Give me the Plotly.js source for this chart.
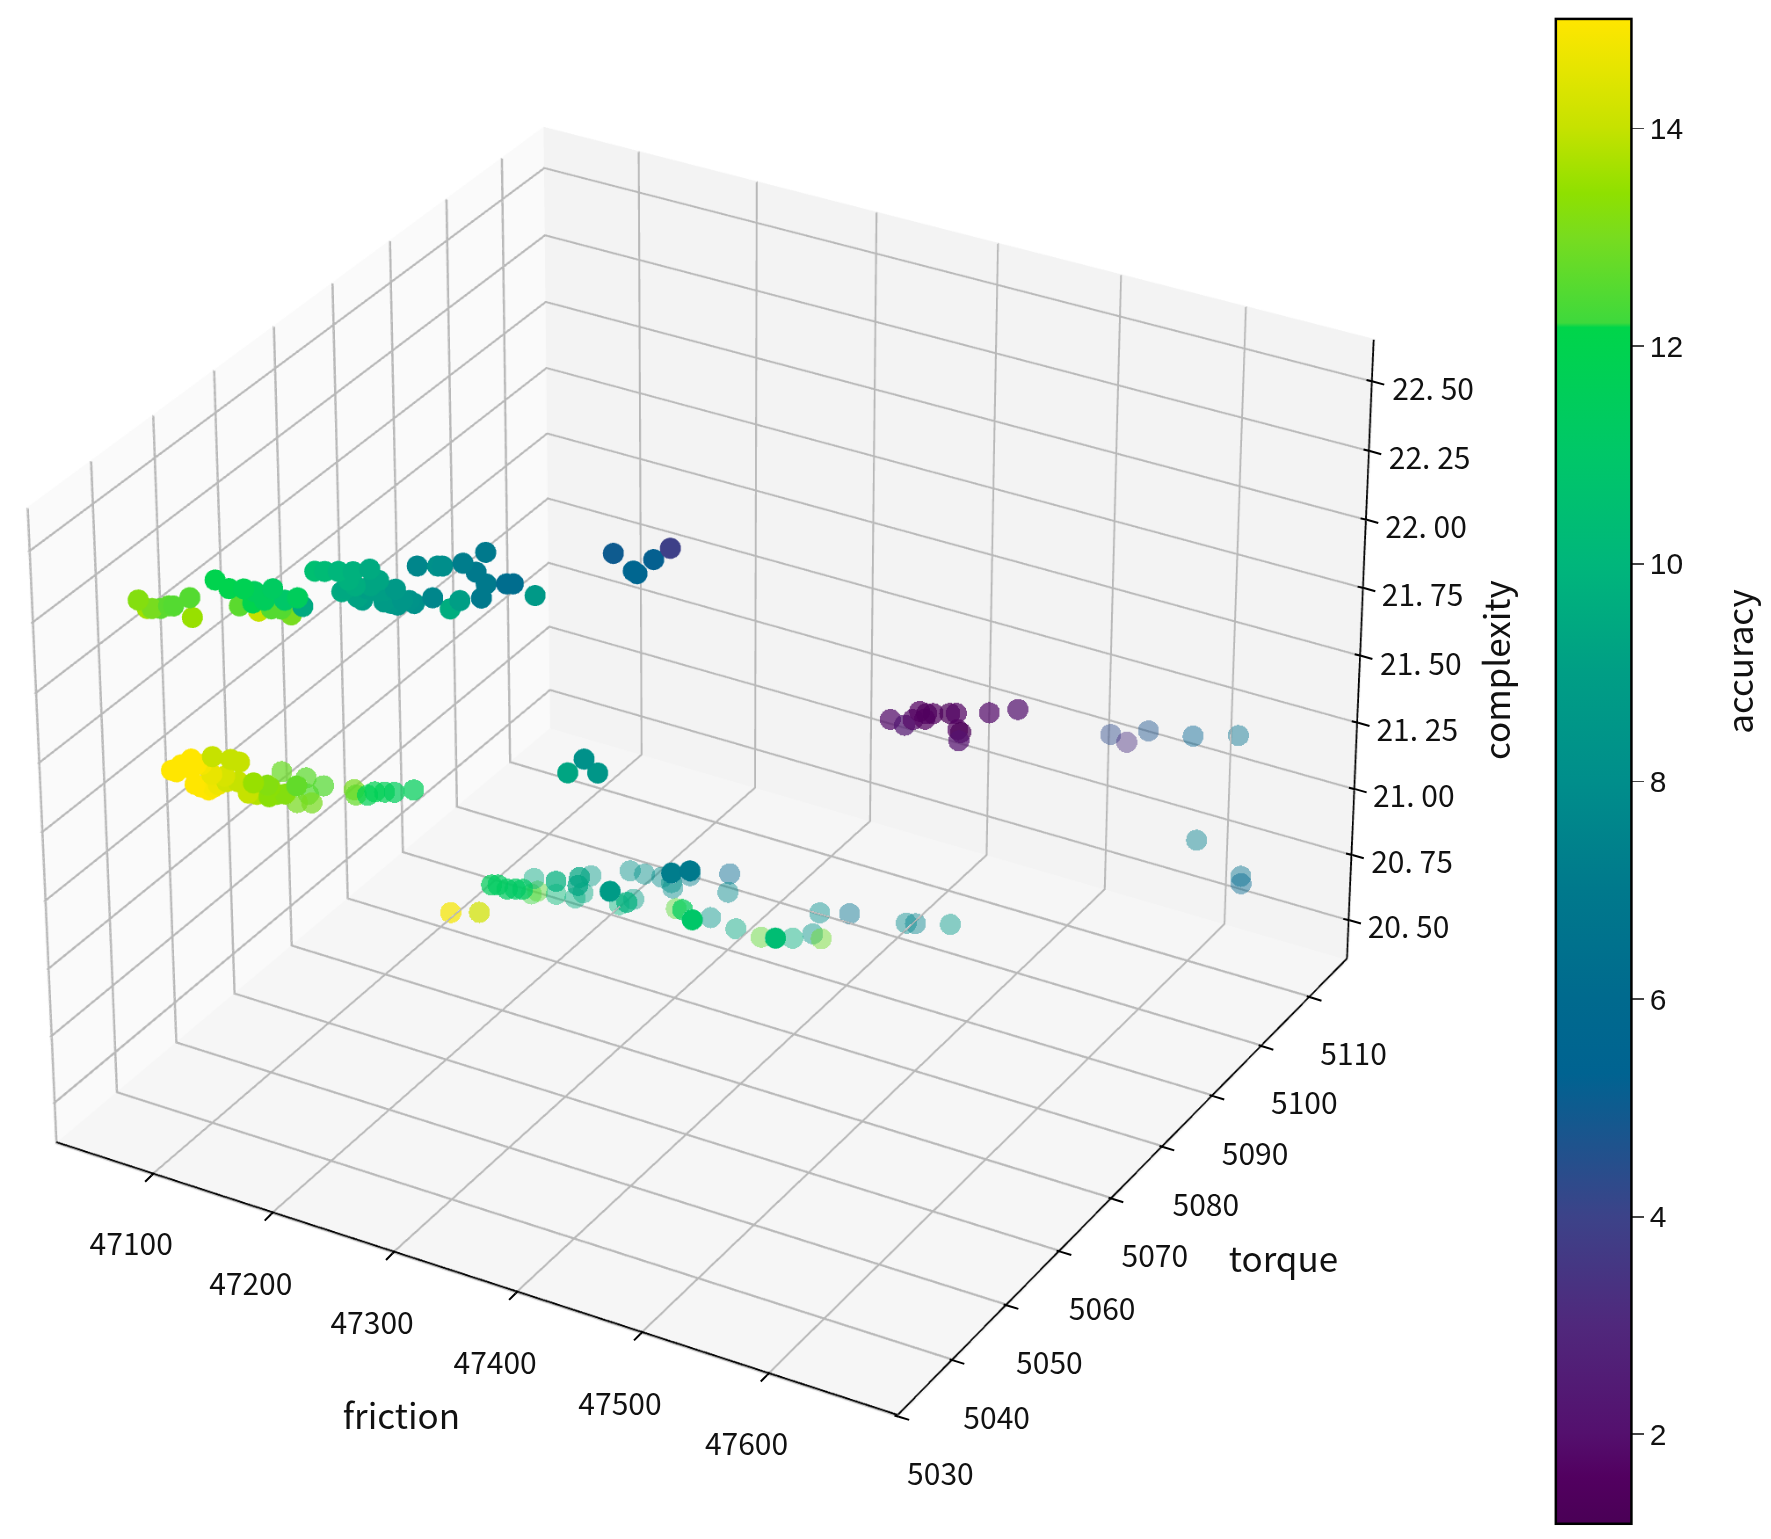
<!DOCTYPE html>
<html><head><meta charset="utf-8">
<script src="https://cdn.plot.ly/plotly-3.0.1.min.js"></script>
<style>html,body{margin:0;padding:0;background:#fff;overflow:hidden;width:1771px;height:1539px}#w{position:absolute;left:0;top:0;width:1771px;height:1539px;overflow:hidden}#c{position:absolute;left:0;transform-origin:0 0}</style></head>
<body><div id="w"><div id="c"></div></div>
<script>
const nearFriction=[47084,47089,47092,47097,47102,47105,47115,47116,47131,47139,47148,47145,47154,47156,47165,47164,47160,47172,47176,47180,47183,47170,47153,47191,47197,47205,47214,47224,47211,47229,47209,47216,47222,47228,47239,47236,47247,47243,47219,47207,47253,47265,47268,47280,47288,47294,47294,47306,47310,47291,47262,47278,47272,47323,47100,47106,47112,47118,47125,47114,47122,47128,47136,47141,47133,47140,47146,47150,47158,47159,47169,47176,47371,47383,47385,47395,47405,47342,47352,47360,47267,47279,47228,47333,47280,47103,47109,47115,47117,47125,47132,47124,47151,47159,47163,47215,47224,47233,47232,47240,47250];
const nearTorque=[5034.2,5034.6,5034.8,5035.2,5035.5,5035.7,5036.4,5036.5,5037.4,5038,5038.6,5038.4,5039.1,5039.3,5039.9,5039.8,5039.5,5040.4,5040.6,5040.9,5041.1,5040.2,5039,5041.6,5042,5042.6,5043.2,5043.9,5043,5044.3,5042.9,5043.4,5043.8,5044.3,5045,5044.8,5045.6,5045.3,5043.6,5042.7,5045.8,5046.7,5046.9,5047.8,5048.3,5048.7,5048.7,5049.6,5049.9,5048.5,5046.4,5047.6,5047.2,5050.8,5035.4,5035.8,5036.3,5036.8,5037.2,5036.4,5037,5037.4,5038,5038.4,5037.8,5038.3,5038.7,5038.8,5039.5,5039.5,5040.2,5040.7,5053.9,5054.7,5054.9,5055.6,5056.3,5052,5052.7,5053.3,5086.7,5087.5,5083.8,5091.6,5087.7,5035.6,5036.1,5036.5,5036.7,5037.2,5037.7,5037.2,5039.1,5039.7,5040,5043.3,5044,5044.6,5044.5,5045.1,5045.8];
const nearComplexity=[22.34,22.31,22.31,22.31,22.32,22.32,22.35,22.28,22.415,22.385,22.385,22.325,22.375,22.305,22.385,22.315,22.345,22.345,22.295,22.355,22.325,22.315,22.335,22.45,22.45,22.45,22.45,22.46,22.42,22.42,22.39,22.36,22.39,22.38,22.39,22.34,22.35,22.35,22.35,22.38,22.475,22.475,22.475,22.485,22.455,22.525,22.415,22.415,22.415,22.365,22.365,22.355,22.325,22.375,21.735,21.755,21.775,21.755,21.785,21.685,21.665,21.685,21.775,21.765,21.695,21.695,21.655,21.695,21.685,21.645,21.655,21.685,22.53,22.47,22.46,22.51,22.55,21.75,21.80,21.75,20.66,20.67,20.59,20.41,20.48,21.73,21.745,21.756,21.675,21.675,21.715,21.72,21.65,21.675,21.65,22.40,22.40,22.386,22.345,22.334,22.34];
const nearAccuracy=[13.2,13.6,13,12.6,12.6,12.5,12.5,13.5,12,12,11.8,12.6,11.5,14,11.3,12.5,11.5,11,13,11.5,9.5,12.5,12,10.5,10.3,10,9.8,9.5,9.8,9.3,9.4,9.2,9,9,8.7,8.7,8.3,8.5,9,9.5,7.6,8.1,8,7.2,7,7,7,6.2,6.2,7,7.6,9,9.6,8.7,15,15,15,14.8,14,15,15,14.7,14,14,14.2,14,14,13.5,13.2,13.3,13.2,12.7,5,5.6,5.6,5.2,3.9,9.3,8.2,8.5,7.2,7,8.8,10.4,11,15,15,15,15,14.9,14.3,14.6,13.8,13.3,13.2,9.6,9.3,9,8.8,8.5,8.2];
const midFriction=[47167,47182,47183,47176,47185,47192,47211,47212,47223,47219,47229,47235,47247,47127,47145,47153,47157,47163,47168,47173,47209,47208,47194,47239,47274,47458,47467,47472,47476,47480,47479,47484,47494,47498,47518,47535,47499,47501,47500];
const midTorque=[5040.1,5041.1,5041.2,5040.7,5041.3,5041.9,5043.1,5043.2,5044.1,5043.7,5044.5,5044.9,5045.7,5076.2,5077.6,5078.2,5078.5,5078.9,5079.3,5079.6,5082.3,5082.2,5081.2,5084.5,5087.2,5084.3,5084.9,5085.3,5085.6,5086,5085.9,5086.3,5087.1,5087.4,5089,5090.4,5087.5,5087.6,5087.5];
const midComplexity=[21.735,21.715,21.655,21.625,21.625,21.685,21.675,21.655,21.665,21.655,21.665,21.665,21.675,20.51,20.51,20.615,20.615,20.60,20.60,20.60,20.645,20.615,20.63,20.55,20.52,21.53,21.51,21.53,21.56,21.55,21.53,21.55,21.55,21.55,21.55,21.56,21.49,21.48,21.45];
const midAccuracy=[12.8,12.6,12.5,13,13,12.5,13,12.7,11.8,11.8,11.7,11.5,11.6,14.8,14.2,11.5,11.3,11.3,11.2,11.2,9.3,9.3,9.8,9.8,11.5,1.9,2.3,1.8,1.6,1.4,1.6,1.5,1.3,1.7,1.9,2.1,1.6,1.2,2.1];
const farFriction=[47178,47182,47180,47194,47216,47211,47206,47234,47243,47241,47250,47261,47267,47268,47279,47304,47303,47270,47292,47308,47324,47344,47357,47362,47361,47380,47416,47422,47444,47548,47558,47571,47599,47627,47603,47633,47633];
const farTorque=[5080.1,5080.4,5080.2,5081.2,5082.9,5082.5,5082.1,5084.2,5084.9,5084.7,5085.4,5086.2,5086.7,5086.7,5087.5,5089.4,5089.3,5086.9,5088.5,5089.7,5090.9,5092.4,5093.3,5093.8,5093.7,5095.1,5097.8,5098.2,5099.9,5105.9,5106.7,5107.8,5109.9,5112.1,5110.3,5112.1,5112.2];
const farComplexity=[20.58,20.59,20.64,20.58,20.65,20.585,20.566,20.54,20.56,20.67,20.657,20.645,20.624,20.604,20.652,20.658,20.588,20.524,20.49,20.447,20.414,20.41,20.428,20.407,20.507,20.504,20.467,20.466,20.462,21.215,21.185,21.225,21.205,21.205,20.81,20.68,20.65];
const farAccuracy=[12.2,12.5,9.5,10.3,8.8,9.4,9.7,10,9,8.3,8.1,8,8.4,8,7.2,5.8,7.8,12.5,8.5,9.4,12.6,9.8,8.4,12.8,8,6.5,7.7,7.5,8.7,4.3,3.3,4.7,5.3,6.5,7.3,6.4,5.7];
const frictionTicks=[47100,47200,47300,47400,47500,47600];
const torqueTicks=[5030,5040,5050,5060,5070,5080,5090,5100,5110];
const complexityTicks=[20.5,20.75,21,21.25,21.5,21.75,22,22.25,22.5];
const complexityLabels=['20. 50','20. 75','21. 00','21. 25','21. 50','21. 75','22. 00','22. 25','22. 50'];
const accuracyTicks=[2,4,6,8,10,12,14];
const xRange=[47018,47702],yRange=[5029.8,5117.8],zRange=[20.345,22.65];

const scale=[[0,'#4a0056'],[0.031,'#520060'],[0.06,'#54106e'],[0.132,'#50287c'],[0.205,'#3c4389'],[0.299,'#006391'],[0.349,'#006a8e'],[0.422,'#00798c'],[0.494,'#008e8b'],[0.566,'#009e85'],[0.638,'#00b67b'],[0.711,'#00c768'],[0.795,'#00d54a'],[0.798,'#3ed93c'],[0.855,'#78dc1f'],[0.884,'#8fe000'],[0.928,'#c6e200'],[0.964,'#e3e500'],[1,'#ffe600']];
const cmin=1.17,cmax=15;
const S=1.758,Hp=7130,T=743-Hp/2,FONT='Noto Sans CJK SC';
const px=x=>x/1771, py=y=>1-(y-T)/Hp;
function trace(x,y,z,c,op,bar){return {type:'scatter3d',mode:'markers',x:x,y:y,z:z,hoverinfo:'skip',showlegend:false,
 marker:{size:12.3/S,opacity:op,color:c,cmin:cmin,cmax:cmax,colorscale:scale,line:{width:0},showscale:bar,
 colorbar:bar?{x:px(1557),xanchor:'left',xpad:0,ypad:0,y:py(772),yanchor:'middle',lenmode:'pixels',len:1504/S,thicknessmode:'pixels',thickness:76/S,outlinewidth:2.5/S,outlinecolor:'#000',
  ticks:'outside',ticklen:12/S,tickwidth:2/S,tickvals:accuracyTicks,tickfont:{size:30/S,family:'Liberation Sans',color:'#111'}}:undefined}};}
const axis=(bg,range,vals)=>({title:{text:''},range:range,autorange:false,tickvals:vals,showticklabels:false,showbackground:true,backgroundcolor:bg,showgrid:true,gridcolor:'#bbbbbb',gridwidth:1,zeroline:false,
 showline:false,ticks:'',showspikes:false});
const r=8.9,ue={x:0.433,y:-0.75,z:0.5};
const note=(x,y,z,t,xs,ys)=>({x:x,y:y,z:z,text:t,showarrow:false,xshift:xs/S,yshift:ys/S,xanchor:'center',yanchor:'middle',font:{size:30/S,family:FONT,color:'#111'}});
const mark=(x,y,z,ax,ay)=>({x:x,y:y,z:z,text:' ',showarrow:true,arrowhead:0,arrowwidth:2/S,arrowcolor:'#000',standoff:0,ax:ax/S,ay:ay/S,font:{size:1}});
const [x0,x1]=[xRange[0]+0.3,xRange[1]-0.3],[y0,y1]=[yRange[0]+0.04,yRange[1]-0.04],[z0,z1]=[zRange[0]+0.001,zRange[1]-0.001];
const [gx0,gx1]=[xRange[0]+1,xRange[1]-1],[gy0,gy1]=[yRange[0]+0.13,yRange[1]-0.13],gz0=zRange[0]+0.004,sz0=zRange[0]+0.008;
const sceneNotes=[
 ...frictionTicks.map(v=>note(v,y0,z0,String(v),-20,-67)),
 ...torqueTicks.map(v=>note(x1,v,z0,String(v),42,-55)),
 ...complexityTicks.map((v,i)=>note(x1,y1,v,complexityLabels[i],59,-5)),
 ...frictionTicks.flatMap(v=>[mark(v,y0,z0,-9,9),mark(v,y0,z0,5,-5)]),
 ...torqueTicks.flatMap(v=>[mark(x1,v,z0,13,4),mark(x1,v,z0,-7,-2)]),
 ...complexityTicks.flatMap(v=>[mark(x1,y1,v,14,4),mark(x1,y1,v,-9,-2)])];
const title=(x,y,t,a)=>({xref:'paper',yref:'paper',x:px(x),y:py(y),text:t,showarrow:false,textangle:a,xanchor:'center',yanchor:'middle',font:{size:35/S,family:FONT,color:'#111'}});
const layout={width:1771/S,height:Hp/S,margin:{l:0,r:0,t:0,b:0},paper_bgcolor:'rgba(0,0,0,0)',showlegend:false,
 annotations:[title(402,1414,'friction',0),title(1284,1257,'torque',0),title(1496,669,'complexity',-90),title(1739,660,'accuracy',-90)],
 scene:{domain:{x:[0,px(1426)],y:[0,1]},aspectmode:'manual',aspectratio:{x:1,y:1,z:0.75},annotations:sceneNotes,
  camera:{eye:{x:r*ue.x,y:r*ue.y,z:r*ue.z},center:{x:0,y:0,z:0},up:{x:0,y:0,z:1},projection:{type:'perspective'}},
  xaxis:axis('#fafafa',xRange,frictionTicks),yaxis:axis('#f3f3f3',yRange,torqueTicks),zaxis:axis('#f6f6f6',zRange,complexityTicks)}};
const gx=[],gy=[],gz=[];
const seg=(...pts)=>{pts.forEach(p=>{gx.push(p[0]);gy.push(p[1]);gz.push(p[2]);});gx.push(null);gy.push(null);gz.push(null);};
frictionTicks.forEach(v=>seg([v,y0,gz0],[v,gy1,gz0],[v,gy1,z1]));
torqueTicks.forEach(v=>seg([x1,v,gz0],[gx0,v,gz0],[gx0,v,z1]));
complexityTicks.forEach(v=>seg([x0,y0,v],[gx0,gy0,v],[gx0,gy1,v],[x1,gy1,v]));
const grid={type:'scatter3d',mode:'lines',x:gx,y:gy,z:gz,line:{color:'#b8b8b8',width:3/S},hoverinfo:'skip',showlegend:false,connectgaps:false};
const spine={type:'scatter3d',mode:'lines',x:[gx0,gx1,gx1,null,gx1,gx1],y:[gy0,gy0,gy1,null,gy1,gy1],z:[sz0,sz0,sz0,null,sz0,z1],line:{color:'#000',width:3.4/S},hoverinfo:'skip',showlegend:false};
const el=document.getElementById('c');el.style.top=T+'px';el.style.width=(1771/S)+'px';el.style.height=(Hp/S)+'px';el.style.transform='scale('+S+')';
Plotly.newPlot(el,[grid,spine,trace(farFriction,farTorque,farComplexity,farAccuracy,0.45,false),trace(midFriction,midTorque,midComplexity,midAccuracy,0.72,false),trace(nearFriction,nearTorque,nearComplexity,nearAccuracy,1,true)],layout,{displayModeBar:false});
</script></body></html>
